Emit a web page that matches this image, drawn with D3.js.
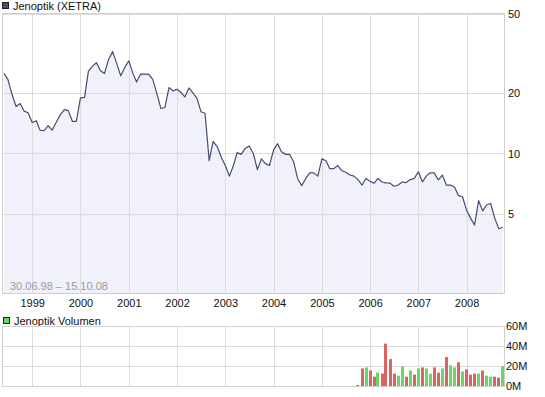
<!DOCTYPE html>
<html><head><meta charset="utf-8">
<script src="https://cdn.jsdelivr.net/npm/d3@7"></script>
<style>
body{margin:0;background:#fff}
text{font-family:"Liberation Sans",Arial,sans-serif;font-size:11px;fill:#111}
</style>
</head><body>
<svg id="c" width="545" height="397"></svg>
<script>
// ---- data ----
const priceName = "Jenoptik (XETRA)";
const volumeName = "Jenoptik Volumen";
const rangeLabel = "30.06.98 \u2013 15.10.08";
const priceStart = [1998, 5];   // June 1998, monthly
const prices = [
  25.2, 23.5, 19.8, 17.2, 17.8, 16.3, 16.0, 14.3, 14.6, 13.1,
  13.0, 13.8, 13.1, 14.3, 15.6, 16.6, 16.4, 14.5, 14.5, 19.0,
  19.1, 25.8, 27.4, 28.5, 26.0, 25.2, 29.6, 32.4, 28.3, 24.5,
  27.0, 29.1, 25.2, 22.8, 25.0, 25.0, 24.9, 23.5, 20.0, 16.8,
  17.0, 21.4, 20.6, 21.0, 20.2, 19.2, 21.3, 20.1, 18.9, 16.2,
  15.9, 9.2, 11.5, 10.8, 9.6, 8.7, 7.7, 8.6, 10.1, 9.9,
  10.6, 10.9, 10.0, 8.3, 9.4, 8.9, 8.7, 10.4, 11.2, 10.2,
  9.9, 9.9, 9.1, 7.5, 6.9, 7.5, 8.0, 8.0, 7.7, 9.4,
  9.2, 8.4, 8.4, 8.7, 8.2, 8.05, 7.8, 7.7, 7.4, 6.95,
  7.5, 7.25, 7.1, 7.5, 7.2, 7.13, 7.1, 6.85, 6.95, 7.2,
  7.15, 7.4, 7.5, 8.1, 7.2, 7.7, 8.0, 8.0, 7.37, 7.8,
  6.95, 6.95, 6.8, 6.15, 6.07, 5.2, 4.73, 4.38, 5.8, 5.16,
  5.52, 5.62, 4.73, 4.2, 4.27
];
const volumeStart = [2005, 9];  // October 2005, monthly, in millions
const volumes = [
  1, 17.6, 18.6, 15.5, 9.3, 13.4, 12.4, 42.4, 26.9, 12.4,
  10.3, 19.7, 9.3, 15.5, 11.4, 17.6, 18.6, 17.6, 12.4, 18.6,
  13.4, 17.6, 29, 20.7, 18.6, 23.8, 14.5, 16.6, 11.4, 12.4,
  12.4, 15.5, 10.3, 9.3, 9.3, 8.3, 19.7
];
const volumeUp = [
  0,0,1,0,0,1,0,0,0,0,
  1,1,0,1,0,1,0,1,1,0,
  0,1,0,1,1,0,1,0,0,0,
  1,0,1,1,0,0,1
];
const yearTicks = [1999,2000,2001,2002,2003,2004,2005,2006,2007,2008];
const priceTicks = [5,10,20,50];
const volumeTicks = [0,20,40,60];

// ---- chart ----
const svg = d3.select("#c");
const L = 3, R = 504;
const mainTop = 14, mainBot = 293;
const volTop = 327, volBot = 387;

const x = d3.scaleTime()
  .domain([new Date(1998,4,25), new Date(2008,9,10)])
  .range([L, R]);
const y = d3.scaleLog().domain([2,50]).range([mainBot, mainTop]);
const yv = d3.scaleLinear().domain([0,60]).range([volBot, volTop]);

const pData = prices.map((v,i)=>({d:new Date(priceStart[0], priceStart[1]+i, 1), v}));
const vData = volumes.map((v,i)=>({d:new Date(volumeStart[0], volumeStart[1]+i, 1), v, up:volumeUp[i]}));

const gridC = "#dcdcdc";
const px = v => Math.round(v) + 0.5;

// main panel background
svg.append("rect").attr("x",L).attr("y",mainTop).attr("width",R-L).attr("height",mainBot-mainTop).attr("fill","#fff");

// area + line
const area = d3.area().x(d=>x(d.d)).y0(mainBot).y1(d=>y(d.v));
svg.append("path").datum(pData).attr("d",area).attr("fill","#f1f1fc");

// grid main
const gMain = svg.append("g");
yearTicks.forEach(yr=>{
  const xx = px(x(new Date(yr,0,1)));
  gMain.append("line").attr("x1",xx).attr("x2",xx).attr("y1",mainTop).attr("y2",mainBot).attr("stroke",gridC);
});
priceTicks.forEach(t=>{
  const yy = px(y(t));
  gMain.append("line").attr("x1",L).attr("x2",R).attr("y1",yy).attr("y2",yy).attr("stroke",gridC);
});
svg.append("rect").attr("x",px(L)-1).attr("y",px(mainTop)-1).attr("width",R-L+1).attr("height",mainBot-mainTop+1)
  .attr("fill","none").attr("stroke","#d0d0d0");

const line = d3.line().x(d=>x(d.d)).y(d=>y(d.v));
svg.append("path").datum(pData).attr("d",line).attr("fill","none")
  .attr("stroke","#474b6e").attr("stroke-width",1.2).attr("stroke-linejoin","round");

// right axis labels main
priceTicks.forEach(t=>{
  svg.append("text").attr("x",508).attr("y",y(t)+4).text(t);
});
// year labels
yearTicks.forEach(yr=>{
  svg.append("text").attr("x",x(new Date(yr,0,1))+0.5).attr("y",307).attr("text-anchor","middle").text(yr);
});
// range label
svg.append("text").attr("x",10).attr("y",290).style("fill","#9a9a9a").text(rangeLabel);

// legends
svg.append("rect").attr("x",2.5).attr("y",2.5).attr("width",6).attr("height",6).attr("fill","#4a4e72").attr("stroke","#222");
svg.append("text").attr("x",13).attr("y",10).text(priceName);
svg.append("rect").attr("x",3.5).attr("y",317.5).attr("width",6).attr("height",6).attr("fill","#66d866").attr("stroke","#222");
svg.append("text").attr("x",14).attr("y",324.5).text(volumeName);

// volume panel grid
const gVol = svg.append("g");
yearTicks.forEach(yr=>{
  const xx = px(x(new Date(yr,0,1)));
  gVol.append("line").attr("x1",xx).attr("x2",xx).attr("y1",volTop).attr("y2",volBot).attr("stroke",gridC);
});
volumeTicks.forEach(t=>{
  const yy = px(yv(t)) - 1;
  gVol.append("line").attr("x1",L).attr("x2",R).attr("y1",yy).attr("y2",yy).attr("stroke",gridC);
});
svg.append("rect").attr("x",px(L)-1).attr("y",px(volTop)-1).attr("width",R-L+1).attr("height",volBot-volTop)
  .attr("fill","none").attr("stroke","#d0d0d0");

// volume bars
svg.append("g").selectAll("rect").data(vData).join("rect")
  .attr("x",d=>Math.round(x(d.d)-1.5))
  .attr("width",3)
  .attr("y",d=>yv(d.v)-1)
  .attr("height",d=>volBot-yv(d.v))
  .attr("fill",d=>d.up ? "#66d866" : "#d96464");

volumeTicks.forEach(t=>{
  svg.append("text").attr("x",506).attr("y",yv(t)+3).text(t+"M");
});
</script>
</body></html>
